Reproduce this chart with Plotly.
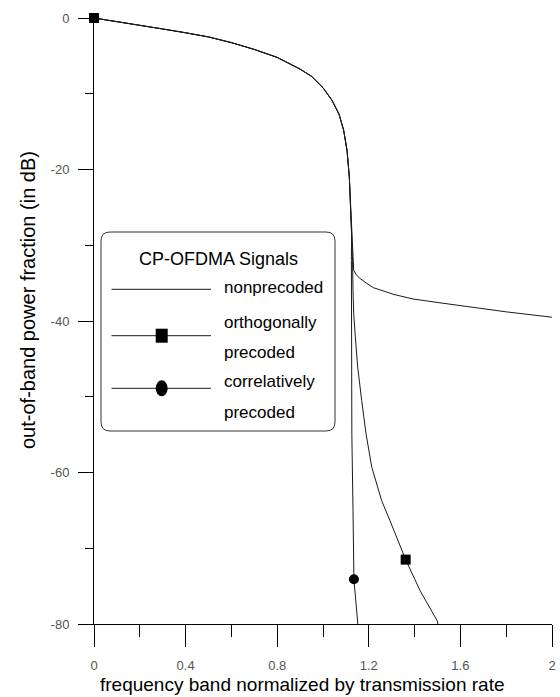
import plotly.graph_objects as go

# ---------------- data ----------------
common_x = [0.0, 0.1, 0.2, 0.3, 0.4, 0.5, 0.6, 0.7, 0.8, 0.9, 0.95, 1.0, 1.04, 1.07,
            1.09, 1.105, 1.115, 1.12, 1.125]
common_y = [0.0, -0.45, -0.95, -1.45, -1.95, -2.5, -3.25, -4.15, -5.2, -6.75, -7.7, -9.2,
            -10.9, -12.7, -14.8, -17.5, -21.0, -24.5, -28.5]

nonpre_tail_x = [1.130, 1.134, 1.145, 1.162, 1.19, 1.22, 1.31, 1.394, 1.511, 1.656, 1.802, 2.0]
nonpre_tail_y = [-31.5, -33.3, -33.9, -34.4, -35.0, -35.6, -36.5, -37.1, -37.6, -38.2, -38.8, -39.5]

ortho_tail_x = [1.129, 1.131, 1.134, 1.140, 1.1515, 1.169, 1.188, 1.213, 1.230, 1.256,
                1.293, 1.361, 1.424, 1.499, 1.502]
ortho_tail_y = [-32.0, -36.0, -39.0, -41.6, -46.1, -50.5, -54.9, -59.3, -61.1, -63.7,
                -66.4, -71.5, -75.6, -79.6, -80.0]

corr_tail_x = [1.124, 1.124, 1.126, 1.131, 1.135, 1.152]
corr_tail_y = [-32.0, -40.0, -55.0, -65.0, -74.1, -80.0]

ortho_marker_x = [0.0, 1.361]
ortho_marker_y = [0.0, -71.5]
corr_marker_x = [1.135]
corr_marker_y = [-74.1]

x_tick_vals = [0, 0.4, 0.8, 1.2, 1.6, 2]
x_tick_text = ["0", "0.4", "0.8", "1.2", "1.6", "2"]
y_tick_vals = [0, -20, -40, -60, -80]
y_tick_text = ["0", "-20", "-40", "-60", "-80"]

series_names = ["nonprecoded", "orthogonally precoded", "correlatively precoded"]
legend_title = "CP-OFDMA Signals"
x_title = "frequency band normalized by transmission rate"
y_title = "out-of-band power fraction (in dB)"

# ---------------- figure ----------------
W, H = 560, 697
L, R, T, B = 94, 8, 18, 73
PW, PH = W - L - R, H - T - B


def px_x(px):
    return (px - L) / PW


def px_y(py):
    return (H - B - py) / PH


LINE = dict(color="#1a1a1a", width=1)
fig = go.Figure()
fig.add_trace(go.Scatter(x=common_x + corr_tail_x, y=common_y + corr_tail_y, mode="lines",
                         line=LINE, name=series_names[2], showlegend=False))
fig.add_trace(go.Scatter(x=common_x + ortho_tail_x, y=common_y + ortho_tail_y, mode="lines",
                         line=LINE, name=series_names[1], showlegend=False))
fig.add_trace(go.Scatter(x=common_x + nonpre_tail_x, y=common_y + nonpre_tail_y, mode="lines",
                         line=LINE, name=series_names[0], showlegend=False))
fig.add_trace(go.Scatter(x=corr_marker_x, y=corr_marker_y, mode="markers",
                         marker=dict(symbol="circle", size=10, color="black"),
                         name=series_names[2], showlegend=False, cliponaxis=False))
fig.add_trace(go.Scatter(x=ortho_marker_x, y=ortho_marker_y, mode="markers",
                         marker=dict(symbol="square", size=10, color="black"),
                         name=series_names[1], showlegend=False, cliponaxis=False))

TICKFONT = dict(family="Liberation Sans, Arial", size=13, color="#555")

fig.update_xaxes(range=[0, 2], showline=True, linecolor="black", linewidth=1,
                 ticks="outside", ticklen=22, tickwidth=1, tickcolor="black",
                 tickvals=x_tick_vals, ticktext=x_tick_text, tickfont=TICKFONT,
                 ticklabelstandoff=7,
                 minor=dict(ticks="outside", ticklen=12, dtick=0.2, tick0=0,
                            tickcolor="black", tickwidth=1, showgrid=False),
                 showgrid=False, zeroline=False)
fig.update_yaxes(range=[-80, 0], showline=True, linecolor="black", linewidth=1,
                 ticks="outside", ticklen=15, tickwidth=1, tickcolor="black",
                 tickvals=y_tick_vals, ticktext=y_tick_text, tickfont=TICKFONT,
                 ticklabelstandoff=6,
                 minor=dict(ticks="outside", ticklen=8, dtick=10, tick0=0,
                            tickcolor="black", tickwidth=1, showgrid=False),
                 showgrid=False, zeroline=False)

shapes = []
annotations = []

# legend box with rounded corners
bx0, bx1, by0, by1 = 101, 335, 232, 431
r = 9
X = lambda v: px_x(v)
Y = lambda v: px_y(v)
path = (f"M {X(bx0 + r)},{Y(by0)} L {X(bx1 - r)},{Y(by0)} Q {X(bx1)},{Y(by0)} {X(bx1)},{Y(by0 + r)} "
        f"L {X(bx1)},{Y(by1 - r)} Q {X(bx1)},{Y(by1)} {X(bx1 - r)},{Y(by1)} "
        f"L {X(bx0 + r)},{Y(by1)} Q {X(bx0)},{Y(by1)} {X(bx0)},{Y(by1 - r)} "
        f"L {X(bx0)},{Y(by0 + r)} Q {X(bx0)},{Y(by0)} {X(bx0 + r)},{Y(by0)} Z")
shapes.append(dict(type="path", xref="paper", yref="paper", path=path,
                   line=dict(color="#333", width=1), fillcolor="white", layer="above"))

sample_x0, sample_x1, mark_x = 111.5, 211, 161.7
rows_y = [289.3, 335.7, 388.3]
for yy in rows_y:
    shapes.append(dict(type="line", xref="paper", yref="paper",
                       x0=X(sample_x0), x1=X(sample_x1), y0=Y(yy), y1=Y(yy),
                       line=dict(color="#1a1a1a", width=1), layer="above"))
# legend markers
shapes.append(dict(type="rect", xref="paper", yref="paper", xsizemode="pixel", ysizemode="pixel",
                   xanchor=X(mark_x), yanchor=Y(rows_y[1]), x0=-6, x1=6, y0=-7, y1=7,
                   fillcolor="black", line=dict(width=0), layer="above"))
shapes.append(dict(type="circle", xref="paper", yref="paper", xsizemode="pixel", ysizemode="pixel",
                   xanchor=X(mark_x), yanchor=Y(rows_y[2]), x0=-6, x1=6, y0=-8, y1=8,
                   fillcolor="black", line=dict(width=0), layer="above"))

TXT = dict(family="Liberation Sans, Arial", size=17, color="black")
annotations.append(dict(xref="paper", yref="paper", x=X(218), y=Y(259), text=legend_title,
                        showarrow=False, xanchor="center", yanchor="middle",
                        font=dict(family="Liberation Sans, Arial", size=18, color="black")))
leg_lines = [("nonprecoded", 287), ("orthogonally", 322), ("precoded", 352),
             ("correlatively", 382), ("precoded", 412)]
for txt, yy in leg_lines:
    annotations.append(dict(xref="paper", yref="paper", x=X(222), y=Y(yy), text=txt,
                            showarrow=False, xanchor="left", yanchor="middle", font=TXT))

# axis titles
annotations.append(dict(xref="paper", yref="paper", x=X(302), y=Y(684), text=x_title,
                        showarrow=False, xanchor="center", yanchor="middle",
                        font=dict(family="Liberation Sans, Arial", size=19, color="black")))
annotations.append(dict(xref="paper", yref="paper", x=X(28), y=Y(300), text=y_title,
                        showarrow=False, xanchor="center", yanchor="middle", textangle=-90,
                        font=dict(family="Liberation Sans, Arial", size=20, color="black")))

fig.update_layout(width=W, height=H, margin=dict(l=L, r=R, t=T, b=B, autoexpand=False),
                  paper_bgcolor="white", plot_bgcolor="white", showlegend=False,
                  shapes=shapes, annotations=annotations)

fig.write_html("out.html")
